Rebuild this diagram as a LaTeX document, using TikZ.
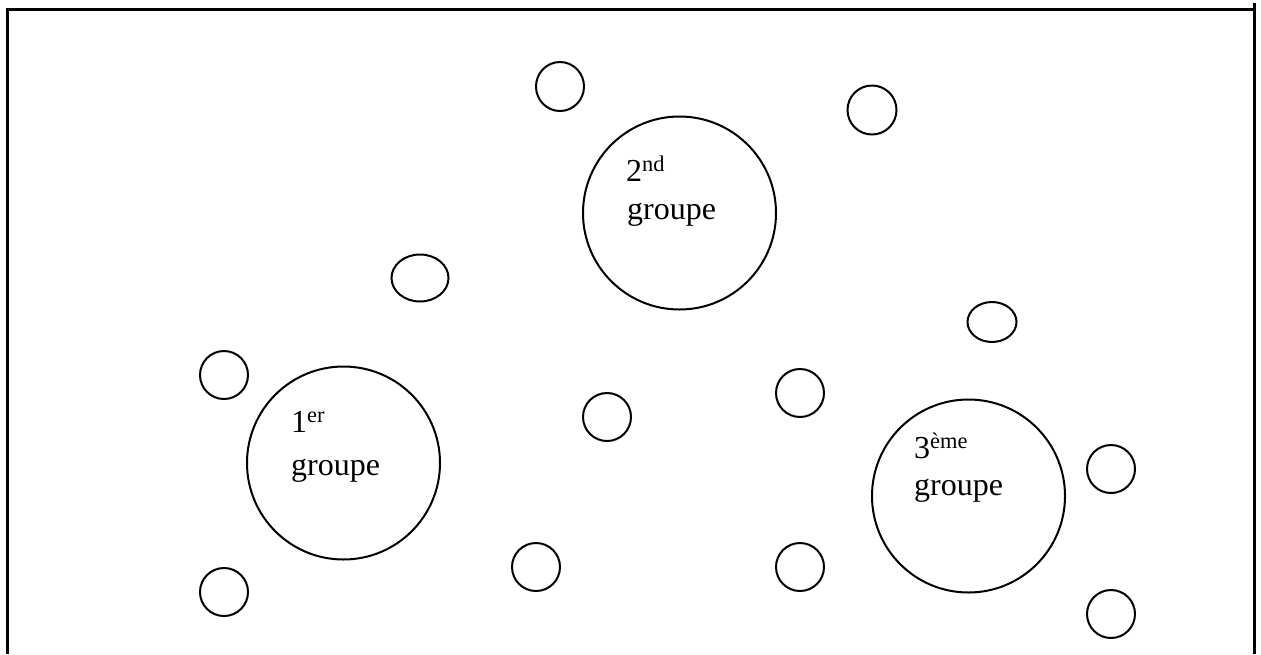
\documentclass[tikz,border=0pt]{standalone}
\usepackage{fontspec}
\setmainfont{Liberation Serif}
\usetikzlibrary{shapes.geometric}
\tikzset{
  bigc/.style={draw, circle, line width=2pt, inner sep=0pt, minimum size=#1},
  smallc/.style={draw, ellipse, line width=2pt, inner sep=0pt},
  lbl/.style={anchor=base west, inner sep=0pt, font=\fontsize{32}{38}\selectfont},
  frame/.style={line width=2.4pt}
}
\begin{document}
\begin{tikzpicture}[x=1pt,y=-1pt]
\useasboundingbox (0,0) rectangle (1261,654);
% frame
\coordinate (fbl) at (7.5,654);
\coordinate (ftl) at (7.5,9.5);
\coordinate (ftr) at (1254.5,9.5);
\coordinate (frt) at (1254.5,3);
\coordinate (frb) at (1254.5,654);
\draw[frame] (fbl) -- (ftl) -- (ftr);
\draw[frame] (frt) -- (frb);
% big circles
\node[bigc=193pt] (g1) at (343.5,463) {};
\node[bigc=193pt] (g2) at (679.5,213) {};
\node[bigc=193pt] (g3) at (968.5,496) {};
% labels
\node[lbl] (t1a) at (291,432) {1\textsuperscript{er}};
\node[lbl] (t1b) at (291,475) {groupe};
\node[lbl] (t2a) at (626,181) {2\textsuperscript{nd}};
\node[lbl] (t2b) at (627,219) {groupe};
\node[lbl] (t3a) at (914,458) {3\textsuperscript{ème}};
\node[lbl] (t3b) at (914,495) {groupe};
% small circles
\node[smallc, minimum width=48pt, minimum height=49pt] (s1) at (560,86.5) {};
\node[smallc, minimum width=49pt, minimum height=49pt] (s2) at (872,110) {};
\node[smallc, minimum width=57pt, minimum height=47pt] (s3) at (420,278) {};
\node[smallc, minimum width=49pt, minimum height=40pt] (s4) at (992,322) {};
\node[smallc, minimum width=48pt, minimum height=48pt] (s5) at (224,375) {};
\node[smallc, minimum width=48pt, minimum height=48pt] (s6) at (800,393) {};
\node[smallc, minimum width=48pt, minimum height=48pt] (s7) at (607,417) {};
\node[smallc, minimum width=48pt, minimum height=48pt] (s8) at (1111,469) {};
\node[smallc, minimum width=48pt, minimum height=48pt] (s9) at (224,592) {};
\node[smallc, minimum width=48pt, minimum height=48pt] (s10) at (536,567) {};
\node[smallc, minimum width=48pt, minimum height=48pt] (s11) at (800,567) {};
\node[smallc, minimum width=48pt, minimum height=48pt] (s12) at (1111,614) {};
\end{tikzpicture}
\end{document}
